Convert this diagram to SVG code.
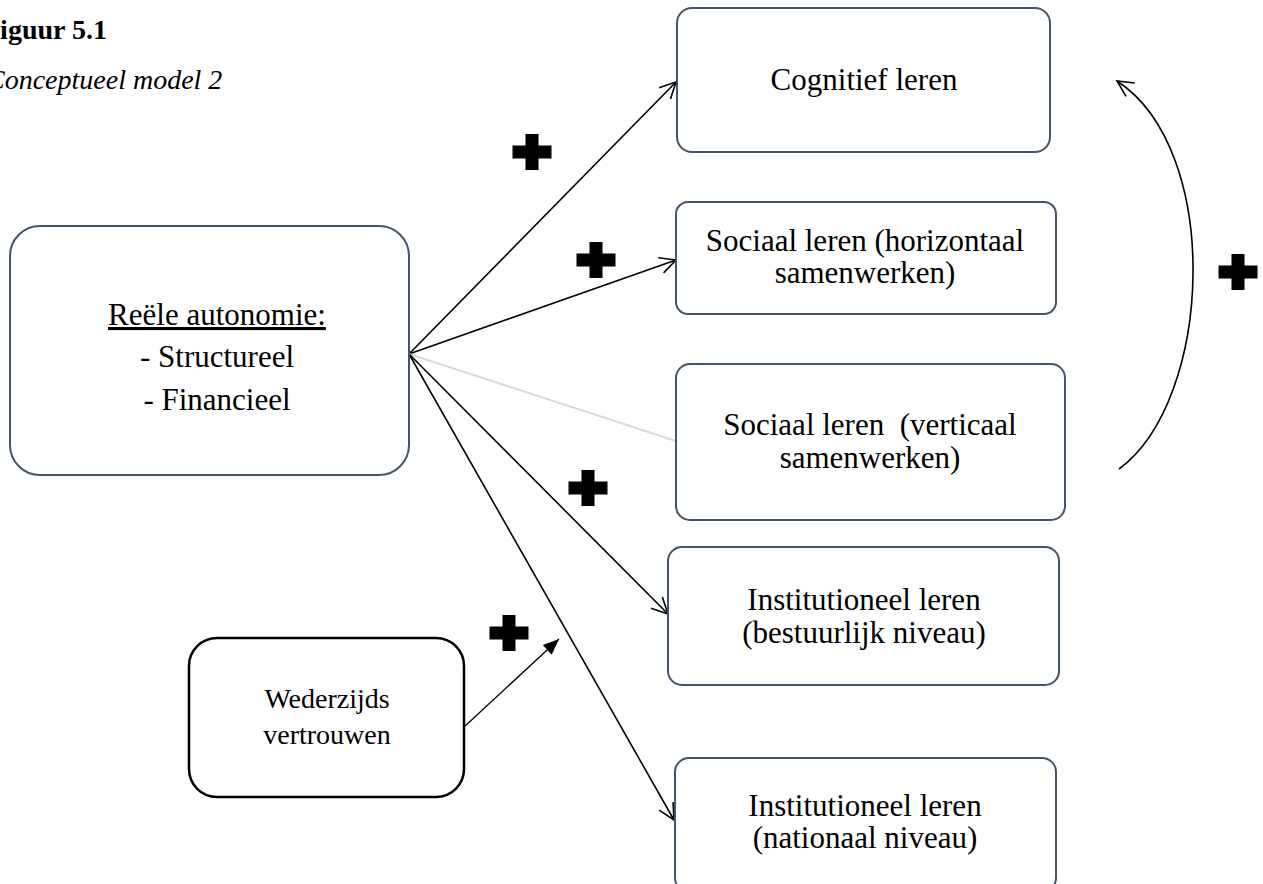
<svg xmlns="http://www.w3.org/2000/svg" width="1263" height="884" viewBox="0 0 1263 884">
<style>
.box{fill:#fff;stroke:#44546a;stroke-width:2}
.wbox{fill:#fff;stroke:#000;stroke-width:2.5}
.t{font-family:"Liberation Serif","Times New Roman",serif;font-size:31px;fill:#000;text-anchor:middle}
.w{font-family:"Liberation Serif","Times New Roman",serif;font-size:28px;fill:#000;text-anchor:middle}
.ln{fill:none;stroke:#000;stroke-width:1.6}
</style>
<defs>
<marker id="open" viewBox="-18 -10 20 20" markerWidth="20" markerHeight="20" refX="0" refY="0" orient="auto" markerUnits="userSpaceOnUse">
<path d="M-16,-8 L0,0 L-16,8" fill="none" stroke="#000" stroke-width="1.6"/>
</marker>
<marker id="filled" viewBox="-17 -8 18 16" markerWidth="18" markerHeight="16" refX="0" refY="0" orient="auto" markerUnits="userSpaceOnUse">
<path d="M-16,-6.5 L0,0 L-16,6.5 Z" fill="#000"/>
</marker>
<path id="plus" d="M-6.5,-18 H6.5 V-6.5 H19.5 V6.5 H6.5 V18 H-6.5 V6.5 H-19.5 V-6.5 H-6.5 Z" fill="#000"/>
</defs>

<g id="title">
<text x="-17" y="39" font-family="Liberation Serif, serif" font-size="28" font-weight="bold">Figuur 5.1</text>
<text x="-14" y="89" font-family="Liberation Serif, serif" font-size="28" font-style="italic">Conceptueel model 2</text>
</g>

<g id="connectors">
<line class="ln" x1="409" y1="354" x2="676" y2="82" marker-end="url(#open)"/>
<line class="ln" x1="409" y1="354" x2="676" y2="260" marker-end="url(#open)"/>
<line x1="409" y1="354" x2="676" y2="441" stroke="#d9d9d9" stroke-width="2"/>
<line class="ln" x1="409" y1="354" x2="668" y2="614" marker-end="url(#open)"/>
<line class="ln" x1="409" y1="354" x2="674" y2="820" marker-end="url(#open)"/>
<line x1="464" y1="727" x2="559" y2="639" stroke="#000" stroke-width="1.3" marker-end="url(#filled)"/>
<path class="ln" d="M1119,469 C1213,400 1223,150 1117,81" marker-end="url(#open)"/>
</g>

<g id="signs">
<use href="#plus" x="532" y="152"/>
<use href="#plus" x="596" y="260"/>
<use href="#plus" x="588" y="488"/>
<use href="#plus" x="509" y="633"/>
<use href="#plus" x="1238" y="272"/>
</g>

<g id="node-autonomie">
<rect class="box" x="10" y="226" width="399" height="249" rx="30"/>
<text class="t" x="217" y="325" text-decoration="underline">Reële autonomie:</text>
<text class="t" x="217" y="367">- Structureel</text>
<text class="t" x="217" y="410">- Financieel</text>
</g>

<g id="node-vertrouwen">
<rect class="wbox" x="189" y="638" width="275" height="159" rx="28"/>
<text class="w" x="327" y="708">Wederzijds</text>
<text class="w" x="327" y="744">vertrouwen</text>
</g>

<g id="node-cognitief">
<rect class="box" x="677" y="8" width="373" height="144" rx="15"/>
<text class="t" x="864" y="90">Cognitief leren</text>
</g>

<g id="node-sociaal-horizontaal">
<rect class="box" x="676" y="202" width="380" height="112" rx="12"/>
<text class="t" x="865" y="251">Sociaal leren (horizontaal</text>
<text class="t" x="865" y="283">samenwerken)</text>
</g>

<g id="node-sociaal-verticaal">
<rect class="box" x="676" y="364" width="389" height="156" rx="14"/>
<text class="t" x="870" y="435" xml:space="preserve">Sociaal leren  (verticaal</text>
<text class="t" x="870" y="468">samenwerken)</text>
</g>

<g id="node-institutioneel-bestuurlijk">
<rect class="box" x="668" y="547" width="391" height="138" rx="14"/>
<text class="t" x="864" y="610">Institutioneel leren</text>
<text class="t" x="864" y="643">(bestuurlijk niveau)</text>
</g>

<g id="node-institutioneel-nationaal">
<rect class="box" x="675" y="758" width="381" height="134" rx="14"/>
<text class="t" x="865" y="816">Institutioneel leren</text>
<text class="t" x="865" y="848">(nationaal niveau)</text>
</g>
</svg>
